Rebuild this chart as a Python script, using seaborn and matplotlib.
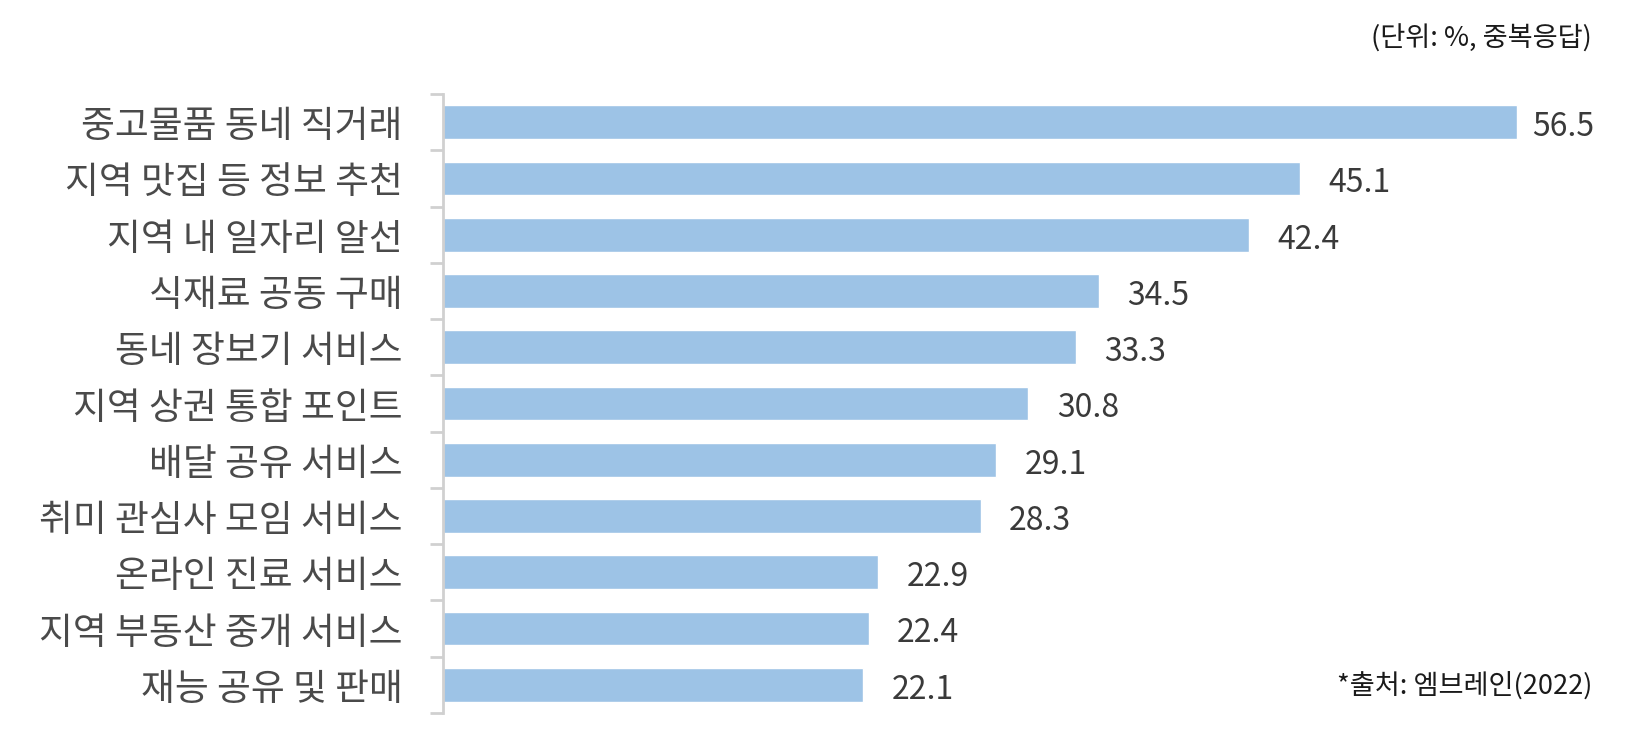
import pandas as pd
import matplotlib.pyplot as plt
import seaborn as sns

categories = ['중고물품 동네 직거래', '지역 맛집 등 정보 추천', '지역 내 일자리 알선',
              '식재료 공동 구매', '동네 장보기 서비스', '지역 상권 통합 포인트',
              '배달 공유 서비스', '취미 관심사 모임 서비스', '온라인 진료 서비스',
              '지역 부동산 중개 서비스', '재능 공유 및 판매']
values = [56.5, 45.1, 42.4, 34.5, 33.3, 30.8, 29.1, 28.3, 22.9, 22.4, 22.1]
value_labels = ['56.5', '45.1', '42.4', '34.5', '33.3', '30.8', '29.1', '28.3', '22.9', '22.4', '22.1']

df = pd.DataFrame({'service': categories, 'pct': values})

sns.set_style('white')
plt.rcParams['font.family'] = ['Noto Sans CJK KR', 'DejaVu Sans']

fig = plt.figure(figsize=(16.26, 7.31), dpi=100)
ax = fig.add_axes([443 / 1626, 1 - 713 / 731, 60 * 19.0 / 1626, (713 - 94) / 731])

sns.barplot(data=df, x='pct', y='service', color='#9DC3E6', width=0.6,
            saturation=1, ax=ax)

ax.set_xlim(0, 60)
ax.set_ylim(10.5, -0.5)
ax.set_xlabel('')
ax.set_ylabel('')
ax.set_xticks([])

for s in ['top', 'right', 'bottom']:
    ax.spines[s].set_visible(False)
ax.spines['left'].set_color('#D0D0D0')
ax.spines['left'].set_linewidth(2)

# category labels, tick marks sit between the categories
ax.tick_params(axis='y', which='major', length=0, pad=29, labelsize=26.5, labelcolor='#4A4A4A')
ax.set_yticks([i - 0.5 for i in range(len(categories) + 1)], minor=True)
ax.tick_params(axis='y', which='minor', length=9.5, width=2, color='#D0D0D0', left=True)

anns = []
for i, (v, lab) in enumerate(zip(values, value_labels)):
    a = ax.annotate(lab, (v, i), xytext=(20.5, -3.5), textcoords='offset points',
                    va='center', ha='left', fontsize=23, color='#3A3A3A')
    anns.append(a)

# keep labels inside the plot area, like the original (the longest bar's label is pulled in)
fig.canvas.draw()
renderer = fig.canvas.get_renderer()
right_px = 1592
for a in anns:
    bb = a.get_window_extent(renderer)
    if bb.x1 > right_px:
        dx = (bb.x1 - right_px) * 72 / fig.dpi
        x0, y0 = a.xyann
        a.xyann = (max(x0 - dx, 11), y0)

fig.text(1592 / 1626, 1 - 39 / 731, '(단위: %, 중복응답)', ha='right', va='center',
         fontsize=19.6, color='#1A1A1A')
fig.text(1592 / 1626, 1 - 687 / 731, '*출처: 엠브레인(2022)', ha='right', va='center',
         fontsize=19.6, color='#1A1A1A')

plt.savefig('out.png', dpi=100)
plt.close()
